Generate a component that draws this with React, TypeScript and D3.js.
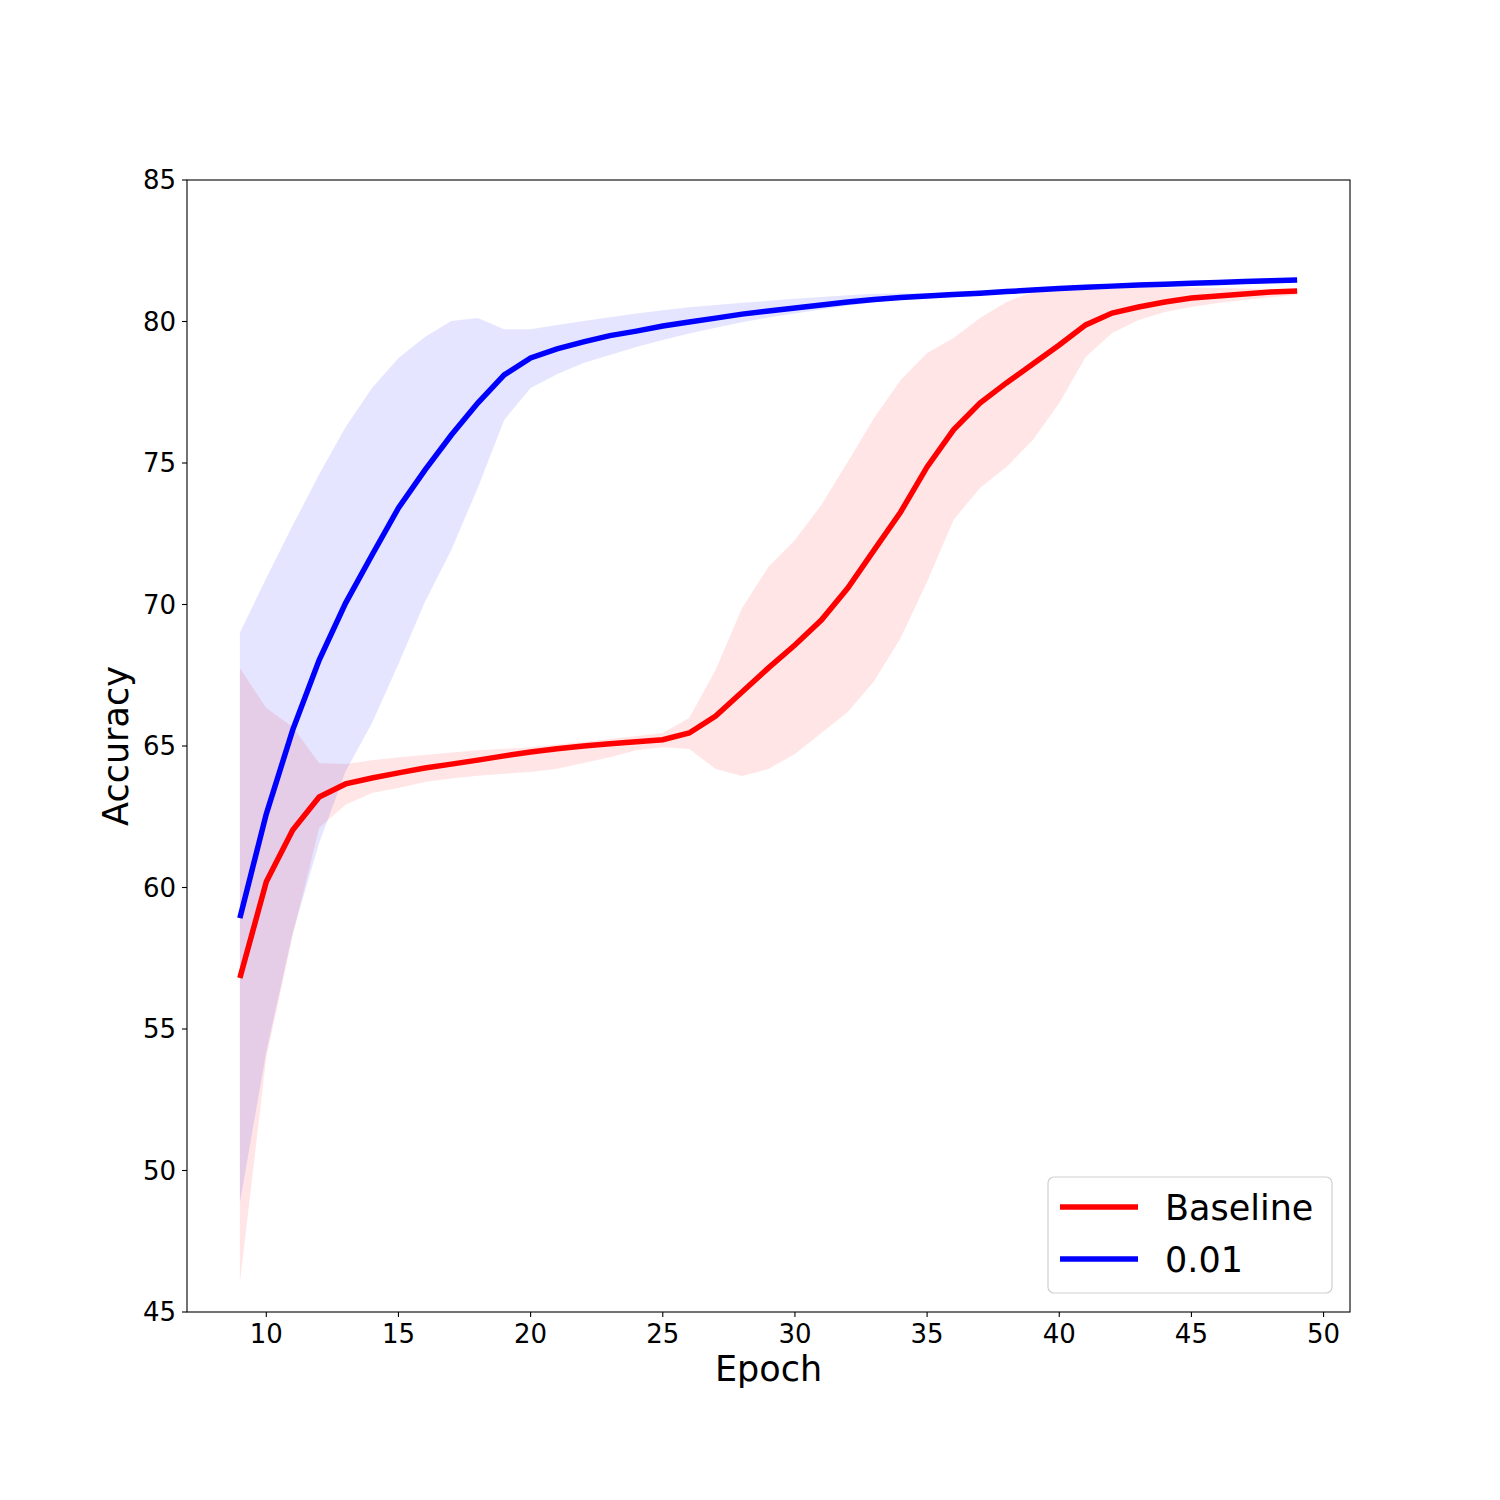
import React, { useEffect } from "react";
import * as d3 from "d3";

// epochs shown on the x axis
const epochs = d3.range(9, 50);

// Baseline run: mean accuracy and band bounds
const baselineMean = [
  56.8, 60.2, 62.03, 63.2, 63.66, 63.87, 64.05, 64.22, 64.36, 64.5, 64.65, 64.79, 64.9, 65.0, 65.08, 65.15,
  65.22, 65.46, 66.06, 66.91, 67.76, 68.57, 69.45, 70.58, 71.93, 73.27, 74.86, 76.17, 77.12, 77.83, 78.5,
  79.17, 79.88, 80.3, 80.51, 80.69, 80.83, 80.9, 80.97, 81.04, 81.08,
];
const baselineUpper = [
  67.76, 66.34, 65.67, 64.4, 64.36, 64.5, 64.6, 64.68, 64.77, 64.85, 64.9, 64.96, 65.05, 65.15, 65.25, 65.35,
  65.46, 65.99, 67.69, 69.88, 71.33, 72.28, 73.52, 75.04, 76.6, 77.93, 78.89, 79.42, 80.12, 80.69, 81.04,
  81.15, 81.18, 81.2, 81.2, 81.2, 81.2, 81.18, 81.17, 81.15, 81.13,
];
const baselineLower = [
  46.03, 54.0, 58.3, 62.1, 62.92, 63.34, 63.52, 63.73, 63.85, 63.95, 64.02, 64.08, 64.2, 64.4, 64.6, 64.85,
  64.96, 64.89, 64.19, 63.94, 64.19, 64.72, 65.46, 66.2, 67.3, 68.82, 70.8, 72.99, 74.12, 74.86, 75.81,
  77.12, 78.75, 79.59, 80.05, 80.34, 80.51, 80.65, 80.76, 80.86, 80.94,
];

// 0.01 run
const lrMean = [
  58.92, 62.6, 65.57, 68.04, 70.05, 71.75, 73.41, 74.75, 75.99, 77.12, 78.11, 78.71, 79.03, 79.28, 79.5,
  79.66, 79.84, 79.98, 80.12, 80.26, 80.37, 80.48, 80.58, 80.69, 80.78, 80.85, 80.9, 80.95, 81.0, 81.06,
  81.11, 81.17, 81.21, 81.25, 81.29, 81.32, 81.35, 81.38, 81.41, 81.44, 81.47, 81.5,
].slice(0, 41);
const lrUpper = [
  69.0, 70.94, 72.8, 74.6, 76.27, 77.65, 78.71, 79.45, 80.02, 80.12, 79.73, 79.73, 79.88, 80.02, 80.15,
  80.28, 80.4, 80.5, 80.58, 80.66, 80.73, 80.8, 80.87, 80.93, 80.98, 81.0, 81.0, 81.03, 81.06, 81.11,
  81.16, 81.22, 81.26, 81.3, 81.34, 81.37, 81.4, 81.43, 81.46, 81.49, 81.52,
];
const lrLower = [
  48.85, 54.2, 58.4, 61.57, 64.1, 65.81, 67.9, 70.09, 71.93, 74.12, 76.52, 77.65, 78.14, 78.53, 78.82,
  79.1, 79.35, 79.58, 79.78, 79.97, 80.14, 80.28, 80.42, 80.56, 80.68, 80.78, 80.85, 80.9, 80.95, 81.01,
  81.06, 81.12, 81.16, 81.2, 81.24, 81.27, 81.3, 81.33, 81.36, 81.39, 81.42,
];

const xTicks = [10, 15, 20, 25, 30, 35, 40, 45, 50];
const yTicks = [45, 50, 55, 60, 65, 70, 75, 80, 85];

const series = [
  { name: "Baseline", color: "red", mean: baselineMean, upper: baselineUpper, lower: baselineLower },
  { name: "0.01", color: "blue", mean: lrMean, upper: lrUpper, lower: lrLower },
];

const font = "DejaVu Sans";

const App = () => {
  useEffect(() => {
    document.body.style.margin = "0";
  }, []);

  const left = 187, right = 1350, top = 180, bottom = 1312;
  const x = d3.scaleLinear().domain([7, 51]).range([left, right]);
  const y = d3.scaleLinear().domain([45, 85]).range([bottom, top]);

  const line = d3.line<number>().x((_, i) => x(epochs[i])).y((d) => y(d));

  return (
    <svg width={1500} height={1500} style={{ display: "block" }} fontFamily={font}>
      <rect width={1500} height={1500} fill="white" />
      <defs>
        <clipPath id="plot">
          <rect x={left} y={top} width={right - left} height={bottom - top} />
        </clipPath>
      </defs>

      {/* shaded bands */}
      <g clipPath="url(#plot)">
        {series.map((s) => {
          const area = d3
            .area<number>()
            .x((_, i) => x(epochs[i]))
            .y0((_, i) => y(s.lower[i]))
            .y1((d) => y(d));
          return <path key={s.name + "band"} d={area(s.upper) || ""} fill={s.color} fillOpacity={0.1} />;
        })}
        {series.map((s) => (
          <path key={s.name} d={line(s.mean) || ""} fill="none" stroke={s.color} strokeWidth={5.5} />
        ))}
      </g>

      {/* frame */}
      <rect x={left} y={top} width={right - left} height={bottom - top} fill="none" stroke="black" strokeWidth={1.1} />

      {/* x ticks */}
      {xTicks.map((t) => (
        <g key={"x" + t} transform={`translate(${x(t)},${bottom})`}>
          <line y2={5} stroke="black" strokeWidth={1.1} />
          <text y={31} textAnchor="middle" fontSize={26}>
            {t}
          </text>
        </g>
      ))}

      {/* y ticks */}
      {yTicks.map((t) => (
        <g key={"y" + t} transform={`translate(${left},${y(t)})`}>
          <line x2={-5} stroke="black" strokeWidth={1.1} />
          <text x={-11} dy="0.36em" textAnchor="end" fontSize={26}>
            {t}
          </text>
        </g>
      ))}

      <text x={(left + right) / 2} y={1381} textAnchor="middle" fontSize={35}>
        Epoch
      </text>
      <text transform={`translate(128,${(top + bottom) / 2}) rotate(-90)`} textAnchor="middle" fontSize={35}>
        Accuracy
      </text>

      {/* legend */}
      <g transform="translate(1048,1177)">
        <rect width={284} height={116} rx={6} fill="white" fillOpacity={0.8} stroke="#d0d0d0" strokeWidth={1.2} />
        {series.map((s, i) => (
          <g key={"leg" + s.name} transform={`translate(0,${30 + i * 52})`}>
            <line x1={12} x2={90} stroke={s.color} strokeWidth={5.5} />
            <text x={117} dy="0.36em" fontSize={35}>
              {s.name}
            </text>
          </g>
        ))}
      </g>
    </svg>
  );
};

export default App;
